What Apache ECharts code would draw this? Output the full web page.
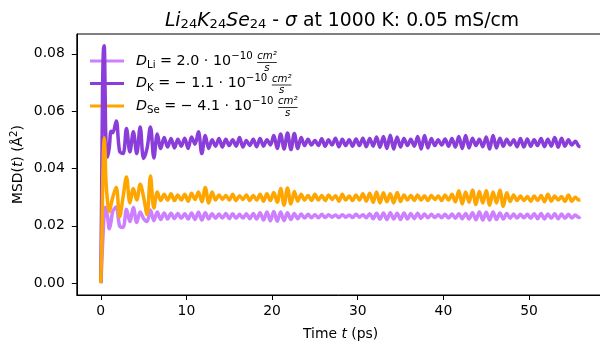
<!DOCTYPE html>
<html>
<head>
<meta charset="utf-8">
<script src="https://cdn.jsdelivr.net/npm/echarts@6/dist/echarts.min.js"></script>
<style>html,body{margin:0;padding:0;background:#fff}#c{width:600px;height:345px}</style>
</head>
<body>
<div id="c"></div>
<script>
// ---- data ----
const times = [0,0.1,0.2,0.3,0.4,0.5,0.6,0.8,1.0,1.2,
1.4,1.8,2.2,2.6,3.0,3.4,3.8,4.2,4.6,5.0,
5.4,5.8,6.2,6.6,7.0,7.4,7.8,8.2,8.6,9.0,
9.4,9.8,10.2,10.6,11.0,11.4,11.8,12.2,12.6,13.0,
13.4,13.8,14.2,14.6,15.0,15.4,15.8,16.2,16.6,17.0,
17.4,17.8,18.2,18.6,19.0,19.4,19.8,20.2,20.6,21.0,
21.4,21.8,22.2,22.6,23.0,23.4,23.8,24.2,24.6,25.0,
25.4,25.8,26.2,26.6,27.0,27.4,27.8,28.2,28.6,29.0,
29.4,29.8,30.2,30.6,31.0,31.4,31.8,32.2,32.6,33.0,
33.4,33.8,34.2,34.6,35.0,35.4,35.8,36.2,36.6,37.0,
37.4,37.8,38.2,38.6,39.0,39.4,39.8,40.2,40.6,41.0,
41.4,41.8,42.2,42.6,43.0,43.4,43.8,44.2,44.6,45.0,
45.4,45.8,46.2,46.6,47.0,47.4,47.8,48.2,48.6,49.0,
49.4,49.8,50.2,50.6,51.0,51.4,51.8,52.2,52.6,53.0,
53.4,53.8,54.2,54.6,55.0,55.4,55.8,56.0];

const msdLi = [0,0.006,0.013,0.019,0.024,0.0265,0.026,0.023,0.0190,0.0215,
0.0250,0.0266,0.0200,0.0195,0.0258,0.0215,0.0264,0.0212,0.0248,0.0225,
0.0215,0.0255,0.0218,0.0248,0.0222,0.0245,0.0224,0.0244,0.0225,0.0243,
0.0226,0.0242,0.0224,0.0245,0.0222,0.0247,0.0220,0.0246,0.0224,0.0242,
0.0226,0.0241,0.0227,0.0243,0.0225,0.0242,0.0226,0.0240,0.0227,0.0242,
0.0225,0.0243,0.0224,0.0246,0.0220,0.0248,0.0218,0.0250,0.0216,0.0248,
0.0218,0.0246,0.0222,0.0243,0.0225,0.0241,0.0227,0.0240,0.0228,0.0239,
0.0228,0.0240,0.0229,0.0239,0.0230,0.0238,0.0229,0.0239,0.0230,0.0238,
0.0229,0.0240,0.0230,0.0239,0.0228,0.0242,0.0225,0.0244,0.0223,0.0245,
0.0222,0.0246,0.0224,0.0244,0.0222,0.0245,0.0224,0.0243,0.0225,0.0244,
0.0226,0.0241,0.0228,0.0240,0.0229,0.0239,0.0228,0.0240,0.0227,0.0241,
0.0226,0.0242,0.0225,0.0243,0.0224,0.0246,0.0221,0.0248,0.0220,0.0247,
0.0220,0.0248,0.0222,0.0245,0.0224,0.0243,0.0226,0.0241,0.0227,0.0240,
0.0228,0.0240,0.0226,0.0242,0.0225,0.0243,0.0224,0.0241,0.0226,0.0242,
0.0225,0.0241,0.0226,0.0240,0.0227,0.0238,0.0229,0.0232];

const msdK = [0,0.030,0.066,0.081,0.0828,0.068,0.050,0.0440,0.0475,0.0530,
0.0525,0.0566,0.0460,0.0452,0.0540,0.0458,0.0528,0.0452,0.0545,0.0435,
0.0470,0.0545,0.0437,0.0520,0.0470,0.0508,0.0475,0.0505,0.0472,0.0502,
0.0478,0.0506,0.0470,0.0510,0.0485,0.0528,0.0452,0.0515,0.0470,0.0500,
0.0478,0.0505,0.0475,0.0502,0.0480,0.0500,0.0478,0.0508,0.0475,0.0498,
0.0480,0.0502,0.0476,0.0505,0.0478,0.0500,0.0482,0.0515,0.0470,0.0520,
0.0468,0.0524,0.0466,0.0522,0.0470,0.0508,0.0480,0.0502,0.0482,0.0498,
0.0480,0.0504,0.0478,0.0500,0.0482,0.0506,0.0476,0.0502,0.0480,0.0500,
0.0478,0.0503,0.0480,0.0506,0.0476,0.0505,0.0478,0.0510,0.0474,0.0512,
0.0470,0.0516,0.0468,0.0510,0.0475,0.0505,0.0480,0.0502,0.0478,0.0512,
0.0468,0.0515,0.0472,0.0505,0.0480,0.0500,0.0482,0.0503,0.0478,0.0505,
0.0475,0.0512,0.0470,0.0515,0.0472,0.0506,0.0480,0.0502,0.0476,0.0510,
0.0468,0.0515,0.0472,0.0506,0.0478,0.0502,0.0482,0.0500,0.0476,0.0505,
0.0475,0.0503,0.0478,0.0500,0.0480,0.0505,0.0476,0.0502,0.0478,0.0508,
0.0474,0.0506,0.0478,0.0500,0.0482,0.0495,0.0478,0.0476];

const msdSe = [0,0.012,0.030,0.045,0.0507,0.046,0.036,0.028,0.0250,0.0275,
0.0300,0.0335,0.0232,0.0300,0.0370,0.0280,0.0330,0.0290,0.0345,0.0300,
0.0240,0.0374,0.0262,0.0318,0.0288,0.0310,0.0290,0.0312,0.0288,0.0308,
0.0290,0.0310,0.0286,0.0314,0.0292,0.0318,0.0284,0.0334,0.0280,0.0318,
0.0290,0.0308,0.0292,0.0306,0.0290,0.0310,0.0288,0.0305,0.0292,0.0308,
0.0288,0.0306,0.0290,0.0310,0.0286,0.0312,0.0288,0.0316,0.0282,0.0330,
0.0272,0.0332,0.0276,0.0320,0.0286,0.0310,0.0290,0.0306,0.0288,0.0310,
0.0290,0.0306,0.0288,0.0308,0.0292,0.0305,0.0286,0.0310,0.0290,0.0304,
0.0288,0.0308,0.0290,0.0312,0.0286,0.0314,0.0282,0.0318,0.0280,0.0315,
0.0284,0.0312,0.0280,0.0316,0.0285,0.0308,0.0290,0.0306,0.0288,0.0308,
0.0290,0.0305,0.0288,0.0306,0.0292,0.0304,0.0288,0.0308,0.0290,0.0310,
0.0284,0.0322,0.0276,0.0318,0.0282,0.0325,0.0274,0.0320,0.0280,0.0322,
0.0272,0.0318,0.0280,0.0324,0.0268,0.0315,0.0285,0.0308,0.0288,0.0304,
0.0288,0.0302,0.0286,0.0304,0.0288,0.0306,0.0284,0.0310,0.0286,0.0304,
0.0290,0.0302,0.0285,0.0308,0.0286,0.0300,0.0290,0.0291];

const seriesNames = ['Li', 'K', 'Se'];
const diffCoeffs = ['2.0', '\u2212 1.1', '\u2212 4.1'];
const xTicks = [0, 10, 20, 30, 40, 50];
const yTicks = [0, 0.02, 0.04, 0.06, 0.08];
const colors = ['#cc80ff', '#8b3dd9', '#ffa500'];

// ---- layout helpers ----
const FF = '"DejaVu Sans"';
const F = 13.9, FL = 14.3, FS = 10.2, FT = 18.8, FTS = 13.1;
const LEG_LEFT = 90, ITEM_W = 34, LEG_TOP = 51, ROW_H = 16, ROW_GAP = 2.5, TXT_PAD = 7;
const ctx = document.createElement('canvas').getContext('2d');
function tw(str, font) { ctx.font = font; return ctx.measureText(str).width; }

const titleW = tw('Li', 'italic ' + FT + 'px ' + FF) + tw('K', 'italic ' + FT + 'px ' + FF) + tw('Se', 'italic ' + FT + 'px ' + FF)
  + 3 * tw('24', FTS + 'px ' + FF) + tw(' - ', FT + 'px ' + FF) + tw('\u03c3', 'italic ' + FT + 'px ' + FF)
  + tw(' at 1000 K: 0.05 mS/cm', FT + 'px ' + FF);
const PLOT_CX = 337;

function legendText(i) {
  return '{d|D}{sub|' + seriesNames[i] + '}{t| = ' + diffCoeffs[i] + ' \u00b7 10}{sup|\u221210}{t| }{num|cm\u00b2}';
}

const chart = echarts.init(document.getElementById('c'), null, { renderer: 'canvas' });
const option = {
  animation: false,
  backgroundColor: '#fff',
  title: {
    left: PLOT_CX - titleW / 2, top: 5,
    text: '{i|Li}{s|24}{i|K}{s|24}{i|Se}{s|24}{r| - }{i|\u03c3}{r| at 1000 K: 0.05 mS/cm}',
    textStyle: {
      fontWeight: 'normal',
      rich: {
        i: { fontFamily: FF, fontSize: FT, fontStyle: 'italic', fontWeight: 'normal', color: '#000', lineHeight: 22 },
        r: { fontFamily: FF, fontSize: FT, fontWeight: 'normal', color: '#000', lineHeight: 22 },
        s: { fontFamily: FF, fontSize: FTS, fontWeight: 'normal', color: '#000', lineHeight: 22, padding: [8, 0, 0, 0] }
      }
    }
  },
  grid: { left: 76.8, right: -4.4, top: 34, bottom: 50, containLabel: false, outerBoundsMode: 'none',
    show: true, borderColor: '#000', borderWidth: 1, backgroundColor: 'transparent' },
  legend: {
    orient: 'vertical', left: LEG_LEFT, top: LEG_TOP, padding: 0, z: 1,
    icon: 'rect', itemWidth: ITEM_W, itemHeight: 3, itemGap: ROW_GAP,
    data: seriesNames,
    formatter: function (name) { return legendText(seriesNames.indexOf(name)); },
    textStyle: {
      rich: {
        d: { fontFamily: FF, fontSize: FL, fontStyle: 'italic', color: '#000', lineHeight: ROW_H, padding: [0, 0, 0, TXT_PAD] },
        sub: { fontFamily: FF, fontSize: FS, color: '#000', lineHeight: ROW_H, padding: [9, 0, 0, 0] },
        t: { fontFamily: FF, fontSize: FL, color: '#000', lineHeight: ROW_H },
        sup: { fontFamily: FF, fontSize: FS, color: '#000', lineHeight: ROW_H, padding: [0, 0, 10, 0] },
        num: { fontFamily: FF, fontSize: FS, fontStyle: 'italic', color: '#000', lineHeight: ROW_H, padding: [0, 0, 9, 0] }
      }
    }
  },
  xAxis: {
    type: 'value', min: -2.8, max: 58.8,
    name: '{r|Time }{i|t}{r| (ps)}', nameLocation: 'middle', nameGap: 32, nameMoveOverlap: false,
    nameTextStyle: { rich: {
      r: { fontFamily: FF, fontSize: F, color: '#000' },
      i: { fontFamily: FF, fontSize: F, fontStyle: 'italic', color: '#000' } } },
    axisLine: { show: true, onZero: false, lineStyle: { color: '#000', width: 1 } },
    axisTick: { show: true, length: 5, customValues: xTicks, lineStyle: { color: '#000', width: 1 } },
    axisLabel: { customValues: xTicks, margin: 9, fontFamily: FF, fontSize: F, color: '#000', formatter: v => String(v) },
    splitLine: { show: false }
  },
  yAxis: {
    type: 'value', min: -0.00414, max: 0.08694,
    name: '{r|MSD(}{i|t}{r|) (\u00c5}{sup|2}{r|)}', nameLocation: 'middle', nameGap: 50, nameMoveOverlap: false,
    nameTextStyle: { rich: {
      r: { fontFamily: FF, fontSize: F, color: '#000', lineHeight: 16 },
      i: { fontFamily: FF, fontSize: F, fontStyle: 'italic', color: '#000', lineHeight: 16 },
      sup: { fontFamily: FF, fontSize: FS, color: '#000', lineHeight: 16, padding: [0, 0, 9, 0] } } },
    axisLine: { show: true, onZero: false, lineStyle: { color: '#000', width: 1 } },
    axisTick: { show: true, length: 5, customValues: yTicks, lineStyle: { color: '#000', width: 1 } },
    axisLabel: { customValues: yTicks, margin: 12, fontFamily: FF, fontSize: F, color: '#000', formatter: v => v.toFixed(2) },
    splitLine: { show: false }
  },
  series: [msdLi, msdK, msdSe].map((arr, i) => ({
    name: seriesNames[i], type: 'line', symbol: 'none', smooth: 0.35, z: 2 + i,
    lineStyle: { color: colors[i], width: 3.5 }, itemStyle: { color: colors[i] },
    data: times.map((t, j) => [t, arr[j]])
  }))
};
chart.setOption(option);

// fraction denominators: placed under the rendered legend numerators
function globalRect(el) {
  const r = el.getBoundingRect().clone();
  const m = el.getComputedTransform ? el.getComputedTransform() : el.transform;
  if (m) r.applyTransform(m);
  return r;
}
const graphics = [];
try {
  const list = chart.getZr().storage.getDisplayList(true);
  const nums = list.filter(el => el.style && el.style.text === 'cm\u00b2').map(globalRect).sort((a, b) => a.y - b.y);
  const ds = list.filter(el => el.style && el.style.text === 'D').map(globalRect).sort((a, b) => a.y - b.y);
  nums.forEach((r, i) => {
    const cy = ds[i] ? ds[i].y + ds[i].height / 2 : r.y + r.height;
    graphics.push({ type: 'line', z: 10, shape: { x1: r.x, y1: cy + 1.5, x2: r.x + r.width, y2: cy + 1.5 },
      style: { stroke: '#000', lineWidth: 0.8 } });
    graphics.push({ type: 'text', z: 10, x: r.x + r.width / 2, y: cy + 7,
      style: { text: 's', font: 'italic ' + FS + 'px ' + FF, fill: '#000', align: 'center', verticalAlign: 'middle' } });
  });
} catch (e) { console.error(e); }
chart.setOption({ graphic: graphics });
</script>
</body>
</html>
